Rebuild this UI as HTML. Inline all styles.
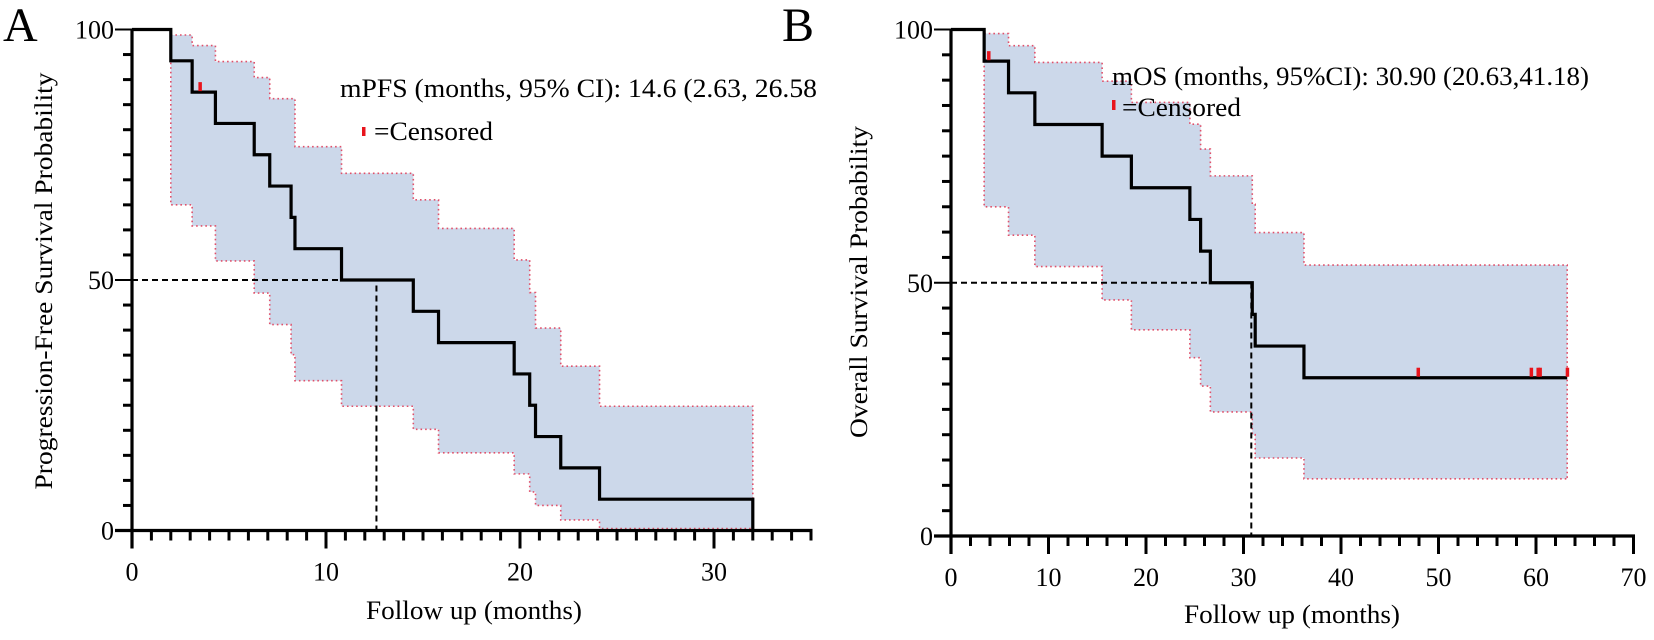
<!DOCTYPE html>
<html><head><meta charset="utf-8"><style>
html,body{margin:0;padding:0;background:#fff;}
svg{display:block;font-family:"Liberation Serif",serif;}
</style></head><body>
<svg id="chart" width="1654" height="640" viewBox="0 0 1654 640" xmlns="http://www.w3.org/2000/svg"></svg>
<script>
// Panel A data (PFS)
const aTimes = [0, 2.0, 3.1, 4.3, 6.3, 7.1, 8.2, 8.4, 10.8, 14.5, 15.8, 19.7, 20.5, 20.8, 22.1, 24.1, 32.0];
const aSurv  = [100, 93.75, 87.5, 81.25, 75, 68.75, 62.5, 56.25, 50, 43.75, 37.5, 31.25, 25, 18.75, 12.5, 6.25, 0];
const aUpper = [100, 98.9, 96.8, 93.6, 90.4, 86.2, 86.2, 76.6, 71.3, 66, 60.3, 54, 47.5, 40.4, 32.8, 24.8, 24.8];
const aLower = [100, 65, 60.8, 53.8, 47.4, 41.1, 35.1, 29.9, 24.8, 20.2, 15.5, 11.3, 7.7, 5, 2.1, 0.4, 0.4];
const aCensor = [3.5];
const aCensorVal = [87.5];
const aMedian = 12.6;
const aXTicks = [0, 10, 20, 30];
// Panel B data (OS)
const bTimes = [0, 3.4, 5.9, 8.6, 15.5, 18.5, 24.5, 25.6, 26.6, 30.9, 31.2, 36.2, 63.2];
const bSurv  = [100, 93.75, 87.5, 81.25, 75, 68.75, 62.5, 56.25, 50, 43.75, 37.5, 31.25, 31.25];
const bUpper = [100, 99.2, 96.8, 93.5, 89.8, 85.6, 81.3, 76.4, 71.1, 65.5, 59.9, 53.5, 53.5];
const bLower = [100, 65, 59.4, 53.2, 46.6, 40.7, 35.2, 29.6, 24.5, 20, 15.4, 11.3, 11.3];
const bCensor = [3.85, 47.9, 59.5, 60.2, 60.4, 63.2];
const bCensorVal = [93.75, 31.25, 31.25, 31.25, 31.25, 31.25];
const bMedian = 30.8;
const bXTicks = [0, 10, 20, 30, 40, 50, 60, 70];
const yTicks = [0, 50, 100];

const NS = "http://www.w3.org/2000/svg";
const svg = document.getElementById('chart');
function mk(tag, attrs, parent){
  const e = document.createElementNS(NS, tag);
  for (const k in attrs) e.setAttribute(k, attrs[k]);
  (parent||svg).appendChild(e);
  return e;
}
function stepPath(times, vals, sx, sy){
  let d = 'M' + sx(times[0]) + ' ' + sy(vals[0]);
  for (let i = 1; i < times.length; i++){
    d += ' H' + sx(times[i]) + ' V' + sy(vals[i]);
  }
  return d;
}

function panel(cfg){
  const {x0, pxPerMo, xMax, y0, y100, minorX, times, surv, upper, lower, censor, censorVal, median, xTicks, name} = cfg;
  const sx = t => x0 + t * pxPerMo;
  const sy = v => y0 - (y0 - y100) * v / 100;
  const g = mk('g', {});
  
  
  const tEnd = times[times.length - 1];
  const start = times[1];
  let up = [], lo = [];
  for (let i = 1; i < times.length; i++){
    const t1 = times[i], t2 = (i + 1 < times.length) ? times[i + 1] : tEnd;
    up.push([sx(t1), sy(upper[i])], [sx(Math.max(t2, t1)), sy(upper[i])]);
    lo.push([sx(t1), sy(lower[i])], [sx(Math.max(t2, t1)), sy(lower[i])]);
  }
  const band = mk('path', {d: 'M' + up.map(p => p.join(' ')).join(' L') + ' L' + lo.slice().reverse().map(p => p.join(' ')).join(' L') + ' Z', fill: '#ccd8ea', stroke: 'none'}, g);
  
  
  const upLine = mk('path', {d: 'M' + up.map(p => p.join(' ')).join(' L') + ' V' + sy(lower[lower.length-1]), fill: 'none', stroke: '#e0506a', 'stroke-width': 1.6, 'stroke-dasharray': '1.6 3'}, g);
  
  
  const loLine = mk('path', {d: 'M' + sx(start) + ' ' + sy(upper[1]) + ' L' + lo.map(p => p.join(' ')).join(' L'), fill: 'none', stroke: '#e0506a', 'stroke-width': 1.6, 'stroke-dasharray': '1.6 3'}, g);
  
  
  const med = mk('path', {d: 'M' + x0 + ' ' + sy(50) + ' H' + sx(median) + ' V' + y0, fill: 'none', stroke: '#000', 'stroke-width': 2, 'stroke-dasharray': '6 4'}, g);
  
  
  const km = mk('path', {d: stepPath(times, surv, sx, sy), fill: 'none', stroke: '#000', 'stroke-width': 3.2, 'stroke-linejoin': 'miter'}, g);
  
  
  censor.forEach((t, i) => {
    const r = mk('rect', {x: sx(t) - 1.5, y: sy(censorVal[i]) - 10, width: 3.5, height: 9, fill: '#e8141c'}, g);
    
    
  });
  const xMaxPx = sx(xMax);
  const yax = mk('line', {x1: x0, y1: y100 - 1, x2: x0, y2: y0 + 18, stroke: '#000', 'stroke-width': 3.2}, g);
  
  
  const xax = mk('line', {x1: x0 - 17, y1: y0, x2: xMaxPx + 1.5, y2: y0, stroke: '#000', 'stroke-width': 3.2}, g);
  
  
  for (let v = 0; v <= 100; v += 5){
    const major = v % 50 === 0;
    mk('line', {x1: x0 - (major ? 17 : 9), y1: sy(v), x2: x0, y2: sy(v), stroke: '#000', 'stroke-width': major ? 2 : 3}, g);
  }
  yTicks.forEach(v => {
    const t = mk('text', {x: x0 - 18, y: sy(v) + 9, 'text-anchor': 'end', 'font-size': 26, fill: '#000'}, g);
    t.textContent = v;
    
    
  });
  for (let m = 0; m <= xMax + 0.001; m += minorX){
    const major = Math.abs(m % 10) < 0.001;
    mk('line', {x1: sx(m), y1: y0, x2: sx(m), y2: y0 + (major ? 18 : 10), stroke: '#000', 'stroke-width': 3}, g);
  }
  xTicks.forEach(v => {
    const t = mk('text', {x: sx(v), y: y0 + 50, 'text-anchor': 'middle', 'font-size': 26, fill: '#000'}, g);
    t.textContent = v;
    
    
  });
}

panel({name: 'pfs', x0: 132, pxPerMo: 19.4, xMax: 35, y0: 530.5, y100: 29.5, minorX: 1,
  times: aTimes, surv: aSurv, upper: aUpper, lower: aLower, censor: aCensor, censorVal: aCensorVal, median: aMedian, xTicks: aXTicks});
panel({name: 'os', x0: 951, pxPerMo: 9.75, xMax: 70, y0: 536, y100: 29.5, minorX: 2,
  times: bTimes, surv: bSurv, upper: bUpper, lower: bLower, censor: bCensor, censorVal: bCensorVal, median: bMedian, xTicks: bXTicks});

function txt(s, attrs, name){
  const t = mk('text', Object.assign({fill: '#000'}, attrs));
  t.textContent = s;
  
  
  return t;
}
txt('A', {x: 3, y: 41, 'font-size': 48}, 'panel-a-label');
txt('B', {x: 782, y: 41, 'font-size': 48}, 'panel-b-label');
txt('mPFS (months, 95% CI): 14.6 (2.63, 26.58', {x: 340, y: 97, 'font-size': 26, textLength: 477, lengthAdjust: 'spacingAndGlyphs'}, 'pfs-median-annotation');
txt('=Censored', {x: 374, y: 140, 'font-size': 26, textLength: 119, lengthAdjust: 'spacingAndGlyphs'}, 'pfs-censored-legend');
const l1 = mk('rect', {x: 362, y: 127, width: 3.5, height: 9, fill: '#e8141c'});


txt('mOS (months, 95%CI): 30.90 (20.63,41.18)', {x: 1112, y: 85, 'font-size': 26, textLength: 477, lengthAdjust: 'spacingAndGlyphs'}, 'os-median-annotation');
txt('=Censored', {x: 1122, y: 116, 'font-size': 26, textLength: 119, lengthAdjust: 'spacingAndGlyphs'}, 'os-censored-legend');
const l2 = mk('rect', {x: 1112, y: 100, width: 3.5, height: 10, fill: '#e8141c'});


txt('Follow up (months)', {x: 474, y: 619, 'font-size': 26, 'text-anchor': 'middle', textLength: 216, lengthAdjust: 'spacingAndGlyphs'}, 'pfs-x-axis-title');
txt('Follow up (months)', {x: 1292, y: 623, 'font-size': 26, 'text-anchor': 'middle', textLength: 216, lengthAdjust: 'spacingAndGlyphs'}, 'os-x-axis-title');
txt('Progression-Free Survival Probability', {x: 0, y: 0, 'font-size': 25, 'text-anchor': 'middle', textLength: 417, lengthAdjust: 'spacingAndGlyphs', transform: 'translate(52,281) rotate(-90)'}, 'pfs-y-axis-title');
txt('Overall Survival Probability', {x: 0, y: 0, 'font-size': 25, 'text-anchor': 'middle', textLength: 312, lengthAdjust: 'spacingAndGlyphs', transform: 'translate(867,282) rotate(-90)'}, 'os-y-axis-title');
</script>
</body></html>
